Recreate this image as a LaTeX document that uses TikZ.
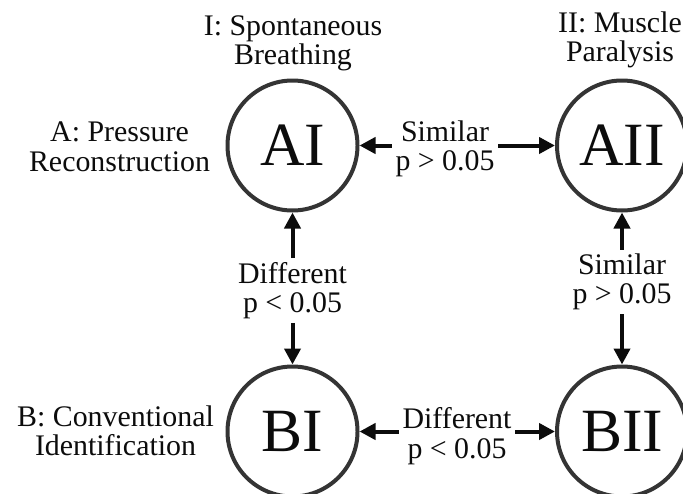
\documentclass[tikz,border=0pt]{standalone}
\usepackage{fontspec}
\setmainfont{Liberation Serif}
\usetikzlibrary{positioning, arrows.meta}
\definecolor{ringgray}{RGB}{52, 52, 52}
\definecolor{inkblack}{RGB}{12, 12, 12}

\begin{document}
\begin{tikzpicture}[
                estado/.style={circle, draw=ringgray, line width=0.08cm, minimum size=2.6cm, inner sep=0pt, text=inkblack, font=\fontsize{35}{42}\selectfont},
                etiqueta/.style={align=center, inner sep=2pt, text=inkblack, font=\fontsize{17}{16.8}\selectfont},
                flecha/.style={draw=inkblack, line width=0.08cm, -{Triangle[length=0.32cm, width=0.32cm]}}
            ]
                % Marco del dibujo
                \useasboundingbox (0, 0) rectangle (13.66, 9.86);
                \clip (0, 0) rectangle (13.66, 9.86);
                
                % Estados
                \node[estado] (AI) at (5.85, 6.95) {AI};
                \node[estado] (AII) at (12.44, 6.95) {AII};
                \node[estado] (BI) at (5.85, 1.23) {BI};
                \node[estado] (BII) at (12.44, 1.23) {BII};
                
                % Columnas y filas
                \node[etiqueta] (colI) at (5.86, 8.99) {I: Spontaneous\\Breathing};
                \node[etiqueta] (colII) at (12.40, 9.06) {II: Muscle\\Paralysis};
                \node[etiqueta] (rowA) at (2.39, 6.92) {A: Pressure\\Reconstruction};
                \node[etiqueta] (rowB) at (2.31, 1.24) {B: Conventional\\Identification};
                
                % Comparaciones
                \node[etiqueta] (cmpTop) at (8.90, 6.88) {Similar\\p > 0.05};
                \node[etiqueta] (cmpBot) at (9.14, 1.14) {Different\\p < 0.05};
                \node[etiqueta] (cmpLeft) at (5.85, 4.05) {Different\\p < 0.05};
                \node[etiqueta] (cmpRight) at (12.44, 4.22) {Similar\\p > 0.05};
                
                % Flechas
                \draw[flecha] (cmpTop.west |- AI) -- (AI);
                \draw[flecha] (cmpTop.east |- AII) -- (AII);
                \draw[flecha] (cmpBot.west |- BI) -- (BI);
                \draw[flecha] (cmpBot.east |- BII) -- (BII);
                \draw[flecha] (cmpLeft.north) -- (AI);
                \draw[flecha] (cmpLeft.south) -- (BI);
                \draw[flecha] (cmpRight.north) -- (AII);
                \draw[flecha] (cmpRight.south) -- (BII);
            \end{tikzpicture}
\end{document}
